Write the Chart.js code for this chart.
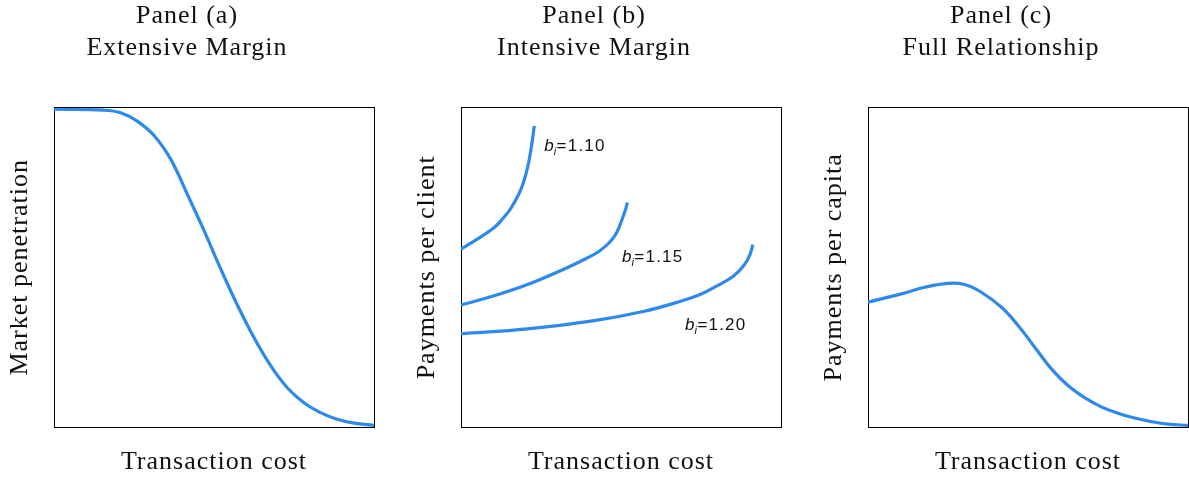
<!DOCTYPE html>
<html>
<head>
<meta charset="utf-8">
<title>Transaction cost panels</title>
<script src="https://cdn.jsdelivr.net/npm/chart.js@4/dist/chart.umd.min.js"></script>
<style>
  html, body { margin: 0; padding: 0; background: #fff; overflow: hidden; }
  /* panels overlap a little: each canvas is symmetric around its plot box so titles centre on it */
  .panel { position: absolute; top: 0; width: 428px; height: 477px; }
  #panelA { left: 0; }
  #panelB { left: 407px; }
  #panelC { left: 814px; }
</style>
</head>
<body>
<div class="panel" id="panelA"><canvas id="chartA" width="428" height="477"></canvas></div>
<div class="panel" id="panelB"><canvas id="chartB" width="428" height="477"></canvas></div>
<div class="panel" id="panelC"><canvas id="chartC" width="428" height="477"></canvas></div>

<script>
// ---- data (normalised units, 0..1 on both axes) ----

// Panel (a): market penetration vs transaction cost
const aCost = [0, 0.156, 0.208, 0.26, 0.3125, 0.365, 0.417, 0.469, 0.521, 0.573, 0.625, 0.677, 0.729, 0.781, 0.833, 0.885, 0.9375, 1];
const aPenetration = [0.995, 0.992, 0.984, 0.958, 0.913, 0.838, 0.728, 0.615, 0.495, 0.382, 0.28, 0.192, 0.123, 0.076, 0.045, 0.024, 0.012, 0.005];

// Panel (b): payments per client, one curve per b_i
const b110Cost = [0, 0.052, 0.104, 0.13, 0.156, 0.1875, 0.208, 0.221, 0.229];
const b110Pay = [0.557, 0.589, 0.625, 0.652, 0.685, 0.745, 0.812, 0.885, 0.943];
const b115Cost = [0, 0.104, 0.208, 0.3125, 0.396, 0.434, 0.466, 0.4875, 0.503, 0.514, 0.52];
const b115Pay = [0.382, 0.411, 0.446, 0.49, 0.53, 0.552, 0.58, 0.611, 0.649, 0.68, 0.703];
const b120Cost = [0, 0.208, 0.417, 0.573, 0.677, 0.747, 0.8, 0.851, 0.885, 0.903, 0.912];
const b120Pay = [0.292, 0.307, 0.333, 0.3625, 0.391, 0.415, 0.442, 0.472, 0.507, 0.54, 0.571];

// curve labels in panel (b)
const bLabels = ["1.10", "1.15", "1.20"];
const bLabelCost = [0.26, 0.503, 0.7];
const bLabelPay = [0.865, 0.516, 0.304];

// Panel (c): payments per capita vs transaction cost
const cCost = [0, 0.104, 0.177, 0.25, 0.302, 0.354, 0.417, 0.469, 0.521, 0.573, 0.625, 0.677, 0.729, 0.781, 0.833, 0.885, 0.9375, 1];
const cPerCapita = [0.391, 0.417, 0.4375, 0.45, 0.446, 0.422, 0.375, 0.318, 0.25, 0.182, 0.13, 0.092, 0.063, 0.043, 0.028, 0.017, 0.009, 0.005];

// ---- styling ----
const SERIF = "'Liberation Serif', 'DejaVu Serif', serif";
const SANS = "'Liberation Sans', Arial, sans-serif";
const LINE_BLUE = "#2d8aea";
const TEXT_COLOR = "#111";

// zip two arrays into {x, y} points
function toPoints(xs, ys) {
  return xs.map((x, i) => ({ x: x, y: ys[i] }));
}

function curve(xs, ys) {
  return {
    data: toPoints(xs, ys),
    borderColor: LINE_BLUE,
    borderWidth: 3.2,
    pointRadius: 0,
    fill: false,
    tension: 0.4,
    xAxisID: "x",
    yAxisID: "y",
  };
}

// bare frame axis (every side of the box)
function frameAxis(position) {
  return {
    type: "linear",
    position: position,
    min: 0,
    max: 1,
    display: true,
    ticks: { display: false },
    grid: { display: false, drawTicks: false },
    border: { display: true, color: "#000", width: 1 },
  };
}

function panelOptions(titleLines, yTitle) {
  const x = frameAxis("bottom");
  x.title = {
    display: true,
    text: "Transaction cost",
    color: TEXT_COLOR,
    font: { family: SERIF, size: 26, lineHeight: 1.2 },
    padding: { top: 19.8, bottom: -1 },
  };
  const y = frameAxis("left");
  y.title = {
    display: true,
    text: yTitle,
    color: TEXT_COLOR,
    font: { family: SERIF, size: 26, lineHeight: 1.2 },
    padding: { top: 4.4, bottom: 18.4 },
  };
  return {
    responsive: false,
    animation: false,
    layout: { padding: { left: 0, right: 54, top: 0, bottom: 0 } },
    plugins: {
      legend: { display: false },
      tooltip: { enabled: false },
      title: {
        display: true,
        text: titleLines,
        color: TEXT_COLOR,
        font: { family: SERIF, size: 26, weight: "normal", lineHeight: 1.23 },
        padding: { top: 0, bottom: 43.7 },
      },
    },
    scales: { x: x, y: y, x2: frameAxis("top"), y2: frameAxis("right") },
  };
}

// serif text in the source is set a bit looser than Liberation Serif
const looseText = {
  id: "looseText",
  beforeDraw(chart) {
    chart.ctx.letterSpacing = "1px";
  },
};

// draws the "b_i=..." labels next to the curves of panel (b)
const curveLabelPlugin = {
  id: "curveLabels",
  afterDatasetsDraw(chart) {
    const ctx = chart.ctx;
    const xs = chart.scales.x, ys = chart.scales.y;
    ctx.save();
    ctx.fillStyle = TEXT_COLOR;
    ctx.textBaseline = "alphabetic";
    ctx.textAlign = "left";
    bLabels.forEach((txt, i) => {
      let px = xs.getPixelForValue(bLabelCost[i]);
      const py = ys.getPixelForValue(bLabelPay[i]);
      ctx.letterSpacing = "0px";
      ctx.font = "italic 17px " + SANS;
      ctx.fillText("b", px, py);
      px += ctx.measureText("b").width;
      ctx.font = "italic 11px " + SANS;
      ctx.fillText("i", px, py + 4);
      px += ctx.measureText("i").width + 0.5;
      ctx.font = "17px " + SANS;
      ctx.letterSpacing = "1.2px";
      ctx.fillText("=" + txt, px, py);
    });
    ctx.restore();
  },
};

new Chart(document.getElementById("chartA"), {
  type: "line",
  data: { datasets: [curve(aCost, aPenetration)] },
  options: panelOptions(["Panel (a)", "Extensive Margin"], "Market penetration"),
  plugins: [looseText],
});

new Chart(document.getElementById("chartB"), {
  type: "line",
  data: {
    datasets: [
      curve(b110Cost, b110Pay),
      curve(b115Cost, b115Pay),
      curve(b120Cost, b120Pay),
    ],
  },
  options: panelOptions(["Panel (b)", "Intensive Margin"], "Payments per client"),
  plugins: [looseText, curveLabelPlugin],
});

new Chart(document.getElementById("chartC"), {
  type: "line",
  data: { datasets: [curve(cCost, cPerCapita)] },
  options: panelOptions(["Panel (c)", "Full Relationship"], "Payments per capita"),
  plugins: [looseText],
});
</script>
</body>
</html>
